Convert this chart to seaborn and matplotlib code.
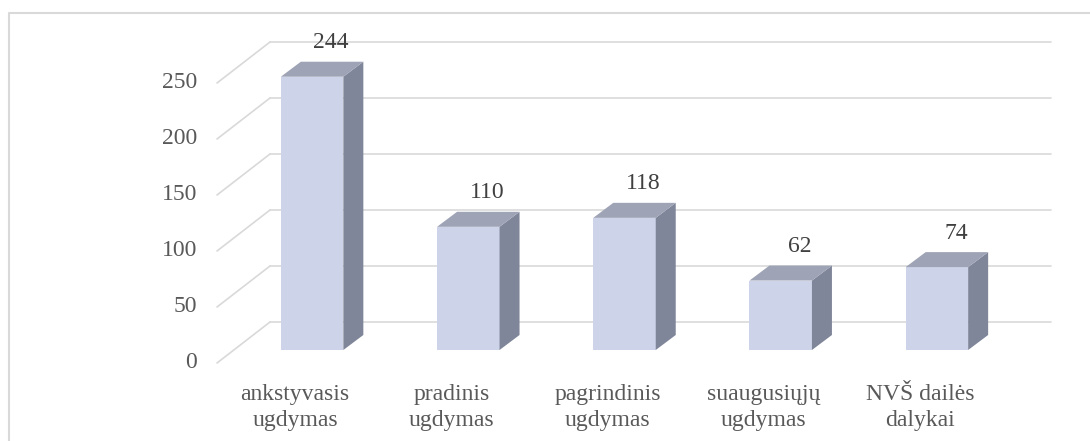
import matplotlib
matplotlib.use("Agg")
import matplotlib.pyplot as plt
from matplotlib.patches import Polygon
from matplotlib.lines import Line2D
import seaborn as sns
import pandas as pd

# data
categories = ["ankstyvasis\nugdymas", "pradinis\nugdymas", "pagrindinis\nugdymas",
              "suaugusiųjų\nugdymas", "NVŠ dailės\ndalykai"]
values = [244, 110, 118, 62, 74]
yticks = [0, 50, 100, 150, 200, 250]

front_col = "#cdd3e9"
top_col = "#9ea3b5"
side_col = "#80869a"
grid_col = "#d9d9d9"
text_col = "#595959"

W, H, DPI = 1090, 441, 100
sns.set_theme(style="white")
plt.rcParams["font.family"] = ["Liberation Serif", "DejaVu Serif"]

fig = plt.figure(figsize=(W / DPI, H / DPI), dpi=DPI)
ax = fig.add_axes([234 / W, 91 / H, 781 / W, 291.2 / H])

df = pd.DataFrame({"cat": categories, "val": values})
sns.barplot(data=df, x="cat", y="val", color=front_col, saturation=1,
            width=0.4, ax=ax, zorder=3, linewidth=0)
xmin, xmax = -0.5, len(categories) - 0.5
ax.set_xlim(xmin, xmax)
ax.set_ylim(0, 260)
ax.axis("off")

# pixel -> data unit scale
o = ax.transData.transform((0, 0))
sx = ax.transData.transform((1, 0))[0] - o[0]
sy = ax.transData.transform((0, 1))[1] - o[1]

bx, by = 36 / sx, 28 / sy     # back wall offset
fx, fy = 17 / sx, 13 / sy     # front plane offset
dx, dy = 20 / sx, 15 / sy     # bar depth

# back wall grid + left wall diagonals
for v in yticks:
    ax.plot([xmin + bx, xmax + bx], [v + by, v + by], color=grid_col, lw=1.2,
            zorder=1, clip_on=False)
    ax.plot([xmin - fx, xmin + bx], [v - fy, v + by], color=grid_col, lw=1.2,
            zorder=1, clip_on=False)
    ax.text(xmin - fx - 20 / sx, v - fy, str(v), ha="right", va="center",
            fontsize=17, color=text_col)

# 3d faces for each bar
for p, v in zip(ax.patches, values):
    x0, w, h = p.get_x(), p.get_width(), p.get_height()
    side = [(x0 + w, 0), (x0 + w + dx, dy), (x0 + w + dx, h + dy), (x0 + w, h)]
    top = [(x0, h), (x0 + w, h), (x0 + w + dx, h + dy), (x0 + dx, h + dy)]
    ax.add_patch(Polygon(side, closed=True, facecolor=side_col, edgecolor="none",
                         zorder=3, clip_on=False))
    ax.add_patch(Polygon(top, closed=True, facecolor=top_col, edgecolor="none",
                         zorder=3, clip_on=False))
    ax.text(x0 + w / 2 + 19 / sx, h + 34 / sy, str(v), ha="center", va="center",
            fontsize=17, color="#404040", clip_on=False)

# category labels on the front plane
for i, c in enumerate(categories):
    ax.text(i - fx, -fy - 21 / sy, c, ha="center", va="top", fontsize=17,
            color=text_col, linespacing=1.3)

# chart frame
fig.add_artist(Line2D([9 / W, 9 / W, 1], [0, 1 - 13 / H, 1 - 13 / H],
                      color=grid_col, lw=1.5, transform=fig.transFigure))

fig.savefig("out.png", dpi=DPI, facecolor="white")
